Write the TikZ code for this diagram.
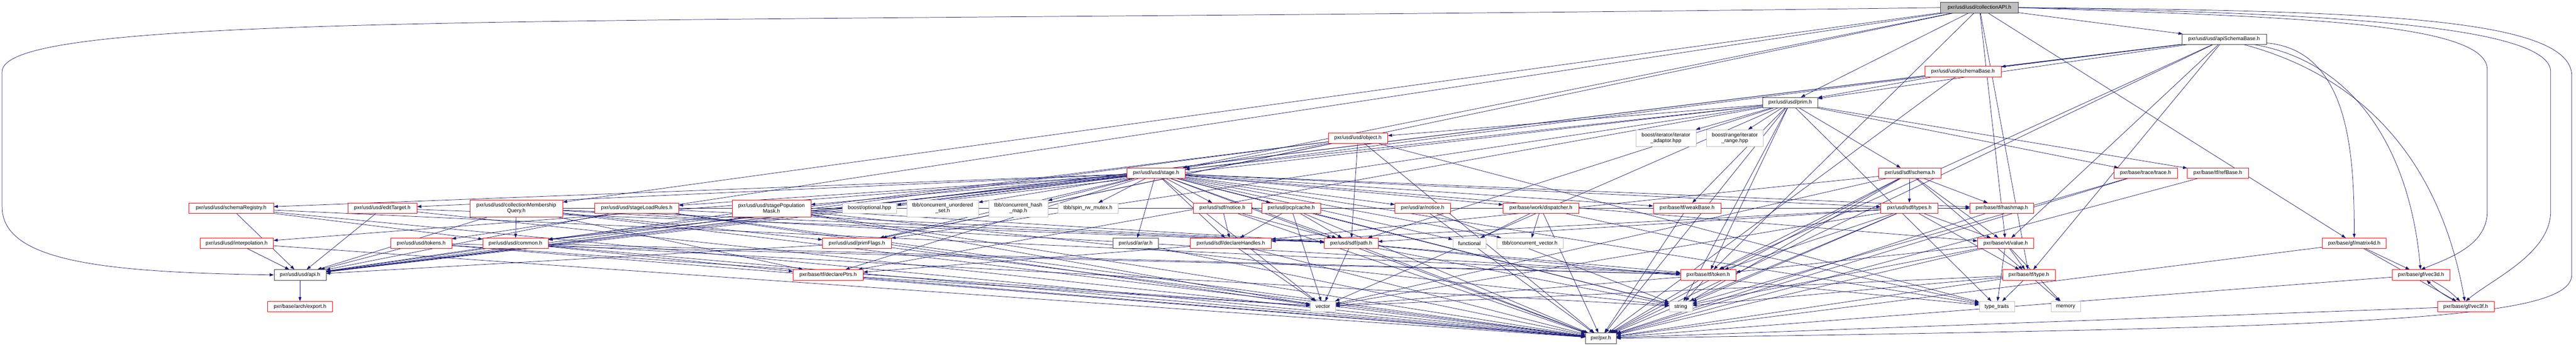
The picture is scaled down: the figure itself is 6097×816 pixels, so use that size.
\documentclass[tikz,border=0pt]{standalone}
\usepackage{fontspec}
\setmainfont{Liberation Sans}
\usetikzlibrary{arrows.meta,backgrounds}
\definecolor{midnight}{HTML}{191970}
\definecolor{boxgray}{HTML}{BFBFBF}
\definecolor{boxblack}{HTML}{404040}

\begin{document}
\begin{tikzpicture}[x=1pt,y=-1pt]
        \tikzstyle{box}=[rectangle, draw, fill=white, inner sep=1pt, minimum height=25pt, align=center, font=\fontsize{12.5}{13.5}\selectfont]
        \tikzstyle{redbox}=[box, draw=red]
        \tikzstyle{graybox}=[box, draw=boxgray]
        \tikzstyle{blackbox}=[box, draw=boxblack]
        \tikzstyle{rootbox}=[box, draw=boxblack, fill=boxgray]
        \tikzstyle{twoline}=[minimum height=40pt]
        \tikzstyle{dep}=[color=midnight, line width=0.9pt, -{Triangle[length=10pt,width=7pt]}]

        \useasboundingbox (0,0) rectangle (6097,816);

        % top of the graph
        \node[rootbox, minimum width=184pt]  (col) at (4685,18) {pxr/usd/usd/collectionAPI.h};
        \node[blackbox, minimum width=200pt] (asb) at (5264,93) {pxr/usd/usd/apiSchemaBase.h};
        \node[redbox, minimum width=181pt]   (sb) at (4646,169) {pxr/usd/usd/schemaBase.h};
        \node[blackbox, minimum width=131pt] (prim) at (4237,243) {pxr/usd/usd/prim.h};

        \node[redbox, minimum width=141pt]           (obj) at (3214,327) {pxr/usd/usd/object.h};
        \node[graybox, twoline, minimum width=143pt] (itad) at (3943,327) {boost/iterator/iterator\\\_adaptor.hpp};
        \node[graybox, twoline, minimum width=135pt] (itrg) at (4106,327) {boost/range/iterator\\\_range.hpp};

        \node[redbox, minimum width=138pt] (stage) at (2736,410) {pxr/usd/usd/stage.h};
        \node[redbox, minimum width=148pt] (sdfschema) at (4520,410) {pxr/usd/sdf/schema.h};
        \node[redbox, minimum width=150pt] (trace) at (5078,410) {pxr/base/trace/trace.h};
        \node[redbox, minimum width=144pt] (refbase) at (5249,410) {pxr/base/tf/refBase.h};

        % headers pulled in by stage.h
        \node[redbox, minimum width=201pt]          (schreg) at (547,493) {pxr/usd/usd/schemaRegistry.h};
        \node[redbox, minimum width=164pt]          (edit) at (905,493) {pxr/usd/usd/editTarget.h};
        \node[redbox, twoline, minimum width=220pt] (cmq) at (1222,493) {pxr/usd/usd/collectionMembership\\Query.h};
        \node[redbox, minimum width=199pt]          (slr) at (1507,493) {pxr/usd/usd/stageLoadRules.h};
        \node[redbox, twoline, minimum width=186pt] (spm) at (1826,493) {pxr/usd/usd/stagePopulation\\Mask.h};
        \node[graybox, minimum width=129pt]         (opt) at (2058,493) {boost/optional.hpp};
        \node[graybox, twoline, minimum width=169pt] (cus) at (2231,493) {tbb/concurrent\_unordered\\\_set.h};
        \node[graybox, twoline, minimum width=140pt] (chm) at (2410,493) {tbb/concurrent\_hash\\\_map.h};
        \node[graybox, minimum width=143pt]         (srw) at (2575,493) {tbb/spin\_rw\_mutex.h};
        \node[redbox, minimum width=138pt]          (sdfnot) at (2893,493) {pxr/usd/sdf/notice.h};
        \node[redbox, minimum width=140pt]          (pcp) at (3056,493) {pxr/usd/pcp/cache.h};
        \node[redbox, minimum width=131pt]          (arnot) at (3367,493) {pxr/usd/ar/notice.h};
        \node[redbox, minimum width=179pt]          (work) at (3647,493) {pxr/base/work/dispatcher.h};
        \node[redbox, minimum width=160pt]          (weak) at (3993,493) {pxr/base/tf/weakBase.h};
        \node[redbox, minimum width=135pt]          (types) at (4519,493) {pxr/usd/sdf/types.h};
        \node[redbox, minimum width=151pt]          (hashmap) at (4738,493) {pxr/base/tf/hashmap.h};

        \node[redbox, minimum width=174pt]   (interp) at (560,576) {pxr/usd/usd/interpolation.h};
        \node[redbox, minimum width=144pt]   (tokens) at (997,576) {pxr/usd/usd/tokens.h};
        \node[redbox, minimum width=155pt]   (common) at (1220,576) {pxr/usd/usd/common.h};
        \node[redbox, minimum width=163pt]   (flags) at (2028,576) {pxr/usd/usd/primFlags.h};
        \node[blackbox, minimum width=107pt] (ar) at (2688,576) {pxr/usd/ar/ar.h};
        \node[redbox, minimum width=192pt]   (handles) at (2913,576) {pxr/usd/sdf/declareHandles.h};
        \node[redbox, minimum width=127pt]   (path) at (3198,576) {pxr/usd/sdf/path.h};
        \node[graybox, minimum width=79pt]   (func) at (3478,576) {functional};
        \node[graybox, minimum width=158pt]  (cvec) at (3621,576) {tbb/concurrent\_vector.h};
        \node[redbox, minimum width=133pt]   (value) at (4747,576) {pxr/base/vt/value.h};
        \node[redbox, minimum width=151pt]   (mat) at (5572,576) {pxr/base/gf/matrix4d.h};

        \node[blackbox, minimum width=123pt] (api) at (710,651) {pxr/usd/usd/api.h};
        \node[redbox, minimum width=166pt]   (ptrs) at (1960,651) {pxr/base/tf/declarePtrs.h};
        \node[redbox, minimum width=131pt]   (token) at (4043,651) {pxr/base/tf/token.h};
        \node[redbox, minimum width=124pt]   (type) at (4802,651) {pxr/base/tf/type.h};
        \node[redbox, minimum width=137pt]   (v3d) at (5730,651) {pxr/base/gf/vec3d.h};

        \node[redbox, minimum width=153pt]  (export) at (710,726) {pxr/base/arch/export.h};
        \node[graybox, minimum width=59pt]  (vector) at (3131,726) {vector};
        \node[graybox, minimum width=55pt]  (string) at (3978,726) {string};
        \node[graybox, minimum width=83pt]  (ttraits) at (4726,726) {type\_traits};
        \node[graybox, minimum width=70pt]  (memory) at (4889,726) {memory};
        \node[redbox, minimum width=134pt]  (v3f) at (5836,726) {pxr/base/gf/vec3f.h};

        \node[blackbox, minimum width=73pt] (pxr) at (3789,801) {pxr/pxr.h};

        % bends of the long loops round the sides
        \coordinate (lt) at (5,170);
        \coordinate (lb) at (5,490);
        \coordinate (rt) at (6087,180);
        \coordinate (rb) at (6087,650);
        \coordinate (rt2) at (6037,170);
        \coordinate (rb2) at (6037,500);
        \coordinate (rt3) at (5887,165);
        \coordinate (rb3) at (5887,500);

        \begin{pgfonlayer}{background}
        \draw[dep] (col.west) .. controls (1500,60) and (5,20) .. (lt) -- (lb) .. controls (5,620) and (250,645) .. (api.west);
        \draw[dep] (col.east) .. controls (5600,25) and (6087,40) .. (rt) -- (rb) .. controls (6087,760) and (5600,775) .. (pxr.east);
        \draw[dep] (col.east) .. controls (5500,30) and (6037,60) .. (rt2) -- (rb2) .. controls (6037,600) and (5900,660) .. (v3f.north);
        \draw[dep] (col.east) .. controls (5400,40) and (5887,50) .. (rt3) -- (rb3) .. controls (5887,580) and (5800,610) .. (v3d.north);

        \path[dep] (col) edge (asb) edge (prim) edge (stage) edge (tokens) edge (cmq) edge (flags) edge (value) edge (mat) edge (token) edge (type);
        \path[dep] (asb) edge (sb) edge (prim) edge (stage) edge (value) edge (token) edge (type) edge (api) edge (pxr);
        \path[dep] (asb) edge[out=-5,in=90] (mat) edge[out=-10,in=95] (v3d) edge[out=-15,in=100] (v3f);
        \path[dep] (sb) edge (prim) edge (api) edge (pxr);
        \path[dep] (prim) edge (obj) edge (itad) edge (itrg) edge (sdfschema) edge (trace) edge (refbase) edge (common) edge (flags) edge (api) edge (ptrs) edge (token) edge (weak) edge (path) edge (string) edge (ttraits) edge (vector) edge (pxr);
        \path[dep] (obj) edge (stage) edge (common) edge (flags) edge (path) edge (api) edge (ttraits) edge (pxr);
        \path[dep] (stage) edge (schreg) edge (edit) edge (interp) edge (slr) edge (spm) edge (opt) edge (cus) edge (chm) edge (srw) edge (sdfnot) edge (pcp) edge (arnot) edge (work) edge (weak) edge (types) edge (hashmap);
        \path[dep] (stage) edge (common) edge (flags) edge (ar) edge (handles) edge (path) edge (func) edge (cvec) edge (value) edge (api) edge (ptrs) edge (string) edge (ttraits) edge (vector) edge (pxr);
        \path[dep] (sdfschema) edge (types) edge (handles) edge (hashmap) edge (value) edge (token) edge (type) edge (string) edge (vector) edge (pxr);
        \path[dep] (trace) edge (pxr) edge (string);
        \path[dep] (refbase) edge (pxr);
        \path[dep] (schreg) edge (api) edge (common) edge (token) edge (pxr);
        \path[dep] (edit) edge (api) edge (path) edge (pxr);
        \path[dep] (cmq) edge (common) edge (api) edge (flags) edge (path) edge (ptrs) edge (hashmap) edge (token) edge (pxr);
        \path[dep] (slr) edge (api) edge (path) edge (vector) edge (pxr);
        \path[dep] (spm) edge (api) edge (path) edge (vector) edge (string) edge (pxr);
        \path[dep] (sdfnot) edge (handles) edge (path) edge (pxr);
        \path[dep] (pcp) edge (handles) edge (path) edge (vector) edge (string) edge (pxr);
        \path[dep] (arnot) edge (string) edge (pxr);
        \path[dep] (work) edge (cvec) edge (func) edge (ttraits) edge (pxr);
        \path[dep] (weak) edge (pxr);
        \path[dep] (types) edge (handles) edge (path) edge (value) edge (token) edge (type) edge (vector) edge (string) edge (pxr);
        \path[dep] (hashmap) edge (pxr);
        \path[dep] (interp) edge (api) edge (pxr);
        \path[dep] (tokens) edge (api) edge (token) edge (vector) edge (pxr);
        \path[dep] (common) edge (api) edge (ptrs) edge (token) edge (string) edge (pxr);
        \path[dep] (flags) edge (api) edge (pxr);
        \path[dep] (ar) edge (pxr);
        \path[dep] (handles) edge (ptrs) edge (vector) edge (pxr);
        \path[dep] (path) edge (token) edge (vector) edge (string) edge (ttraits) edge (pxr);
        \path[dep] (value) edge (type) edge (token) edge (ttraits) edge (memory) edge (string) edge (pxr);
        \path[dep] (mat) edge (v3d) edge (v3f) edge (pxr);
        \path[dep] (api) edge (export);
        \path[dep] (ptrs) edge (vector) edge (pxr);
        \path[dep] (token) edge (string) edge (vector) edge (pxr);
        \path[dep] (type) edge (ttraits) edge (memory) edge (string) edge (vector) edge (pxr);
        \path[dep] (v3d) edge[bend left=8] (v3f) edge (pxr);
        \path[dep] (v3f) edge[bend left=8] (v3d) edge (pxr);
        \end{pgfonlayer}
    \end{tikzpicture}
\end{document}
